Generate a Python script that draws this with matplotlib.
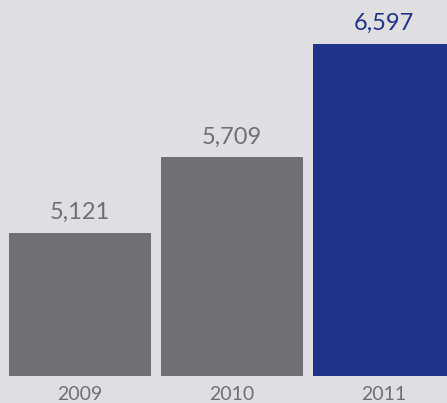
import matplotlib
matplotlib.use("Agg")
import matplotlib.pyplot as plt
from matplotlib.transforms import blended_transform_factory

# data
years = ["2009", "2010", "2011"]
values = [5121, 5709, 6597]
colors = ["#707074", "#707074", "#1f3388"]
label_colors = ["#707074", "#707074", "#1f3388"]

bg = "#dfdfe1"
plt.rcParams["font.family"] = ["Lato", "DejaVu Sans"]

fig = plt.figure(figsize=(4.47, 4.03), dpi=100, facecolor=bg)
ax = fig.add_axes([0, 27 / 403, 1, 376 / 403])
ax.set_facecolor(bg)

x = list(range(len(years)))
ax.bar(x, values, width=0.93, color=colors)

ax.set_ylim(4000, 6940)
ax.set_xlim(-80 / 152, 367 / 152)
ax.axis("off")

for xi, v, c in zip(x, values, label_colors):
    ax.annotate(f"{v:,}", xy=(xi, v), xytext=(0, 10), textcoords="offset points",
                ha="center", va="baseline", fontsize=17, color=c)

# year labels sit at the very bottom of the image
tr = blended_transform_factory(ax.transData, fig.transFigure)
for xi, yr in zip(x, years):
    ax.text(xi, 0.5 / 403, yr, transform=tr, ha="center", va="bottom",
            fontsize=14, color="#707074", clip_on=False)

fig.savefig("out.png", dpi=100, facecolor=bg)
